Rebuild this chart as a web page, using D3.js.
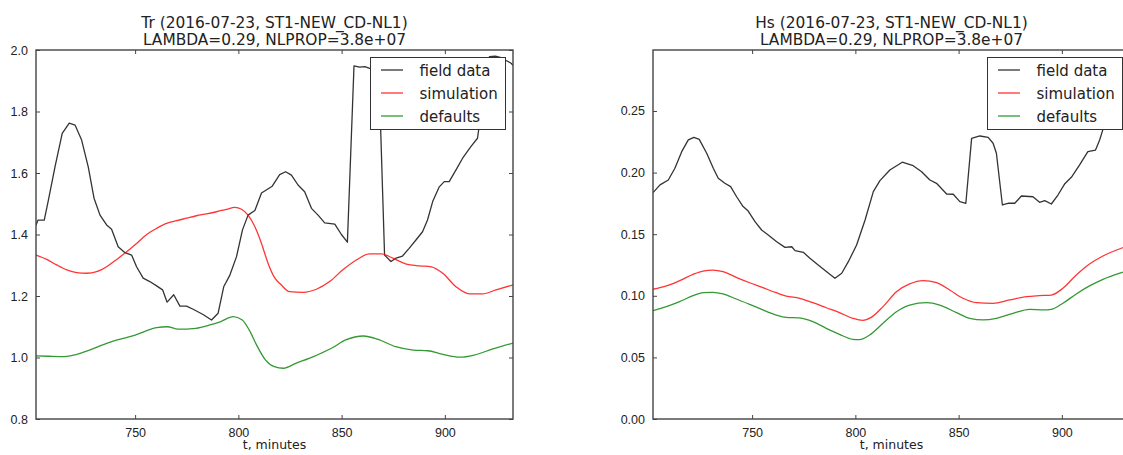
<!DOCTYPE html>
<html>
<head>
<meta charset="utf-8">
<script src="https://cdn.jsdelivr.net/npm/d3@7"></script>
<style>
  body { margin: 0; background: #fff; overflow: hidden; }
  svg { display: block; font-family: 'DejaVu Sans', sans-serif; }
</style>
</head>
<body>
<div id="chart-area"></div>
<script>

// time axis (minutes) shared by both panels
const tDomain = [702, 933];
const tTicks = [750, 800, 850, 900];

const trTicks = [0.8, 1.0, 1.2, 1.4, 1.6, 1.8, 2.0];
const hsTicks = [0.00, 0.05, 0.10, 0.15, 0.20, 0.25];

const seriesNames = ['field data', 'simulation', 'defaults'];
const seriesColors = ['#000000', '#ff0000', '#008000'];

// Tr, [t, value]
const trField = [
  [702, 1.43], [703, 1.447], [706, 1.447], [708, 1.512], [711.2, 1.62], [714.7, 1.729],
  [718.1, 1.762], [720.9, 1.756], [724.1, 1.707], [727.3, 1.62], [730.1, 1.518], [733, 1.463],
  [736.2, 1.431], [738.6, 1.417], [741.8, 1.36], [745.1, 1.341], [748.3, 1.333], [750.7, 1.295],
  [753.9, 1.258], [757.1, 1.247], [760.4, 1.233], [763.3, 1.22], [765.5, 1.18], [768.7, 1.204],
  [771.7, 1.167], [774.9, 1.167], [778.1, 1.157], [782.9, 1.14], [787, 1.122], [790.2, 1.144],
  [792.9, 1.23], [795.9, 1.268], [799.1, 1.328], [802, 1.415], [804.7, 1.463], [808, 1.478],
  [811.2, 1.535], [816.4, 1.557], [820, 1.595], [822.9, 1.604], [825.7, 1.593], [828.9, 1.561],
  [832.1, 1.539], [835.4, 1.485], [838.6, 1.463], [841.8, 1.438], [846.7, 1.434], [849.9, 1.40],
  [852.8, 1.375], [856, 1.948], [858.7, 1.944], [861.2, 1.946], [863.6, 1.94], [868, 1.94],
  [870.8, 1.333], [873.9, 1.312], [876.3, 1.323], [879.5, 1.33], [882.7, 1.355], [886, 1.382],
  [889.2, 1.409], [891.6, 1.447], [894.1, 1.507], [897.3, 1.555], [899.7, 1.572], [902.1, 1.572],
  [905.4, 1.61], [908.6, 1.648], [912.6, 1.686], [915.8, 1.713], [918.5, 1.84], [921.6, 1.978],
  [924.5, 1.98], [927.2, 1.975], [929.6, 1.966], [932.1, 1.957], [933, 1.95]
];
const trSim = [
  [702, 1.333], [707.2, 1.319], [712, 1.301], [716.9, 1.285], [721.7, 1.276], [726.6, 1.274],
  [731.4, 1.279], [736.2, 1.295], [741.1, 1.319], [745.9, 1.344], [750.7, 1.371], [755.6, 1.40],
  [760.4, 1.42], [765.2, 1.436], [770.1, 1.445], [774.9, 1.453], [779.7, 1.461], [784.6, 1.467],
  [789.4, 1.474], [794.3, 1.482], [798.3, 1.488], [801.5, 1.482], [804.7, 1.463], [808, 1.425],
  [811.2, 1.371], [814.4, 1.306], [817.7, 1.258], [820.5, 1.238], [824.8, 1.214], [831.3, 1.212],
  [837.8, 1.222], [844.2, 1.247], [850.6, 1.285], [857.1, 1.317], [863.6, 1.337], [869.2, 1.337],
  [874.8, 1.323], [881.3, 1.304], [887.7, 1.298], [893.4, 1.295], [899, 1.274], [905.4, 1.23],
  [911.9, 1.207], [918.3, 1.207], [924.8, 1.22], [933, 1.236]
];
const trDefault = [
  [702, 1.005], [708, 1.004], [715.5, 1.003], [725.8, 1.019], [736.2, 1.046], [750, 1.073],
  [760.4, 1.097], [765.6, 1.10], [770.8, 1.092], [779.4, 1.095], [786.3, 1.106], [791.5, 1.117],
  [797.5, 1.133], [801.9, 1.122], [805.3, 1.089], [808.8, 1.041], [813.1, 0.992], [817.4, 0.970],
  [821.8, 0.965], [827.8, 0.981], [836.4, 1.003], [845.1, 1.03], [852, 1.057], [860.6, 1.07],
  [867.6, 1.059], [876.2, 1.035], [884.8, 1.024], [891.7, 1.022], [898.6, 1.011], [907.3, 1.001],
  [914.2, 1.008], [922.9, 1.027], [933, 1.047]
];

// Hs, [t, value]
const hsField = [
  [702, 0.1837], [705.4, 0.19], [709.4, 0.194], [712.6, 0.2035], [715.9, 0.217], [719.1, 0.2265],
  [721.8, 0.2286], [724.4, 0.227], [728, 0.2157], [731.2, 0.2035], [733.6, 0.1954], [736.8, 0.1913],
  [739.6, 0.1886], [742.5, 0.1804], [745.4, 0.1729], [748.1, 0.1688], [751.4, 0.1602], [754.6, 0.1534],
  [757.8, 0.1494], [761.9, 0.1439], [765.9, 0.1393], [769.2, 0.1398], [770.8, 0.1366], [774.8, 0.1353],
  [778, 0.1304], [782, 0.125], [786.1, 0.1196], [790.1, 0.1142], [793.4, 0.1183], [796.6, 0.1277],
  [800.6, 0.1412], [804.7, 0.1615], [808.7, 0.1845], [811.9, 0.1935], [816.7, 0.2021], [822.7, 0.2084],
  [828, 0.2056], [832.1, 0.2007], [836.1, 0.194], [839.3, 0.1913], [844.2, 0.1826], [847.4, 0.1824],
  [850.6, 0.1764], [853.5, 0.1751], [856.3, 0.2278], [860.3, 0.2297], [864.3, 0.2286], [866.7, 0.2238],
  [868.3, 0.2157], [871.2, 0.1737], [873.9, 0.1751], [877.2, 0.1751], [880.4, 0.181], [886, 0.1804],
  [889.2, 0.1759], [891.7, 0.1772], [894.9, 0.1745], [898.1, 0.1818], [901.3, 0.1907], [904.6, 0.1962],
  [908.6, 0.2062], [912.6, 0.217], [916.3, 0.2183], [918.3, 0.2265], [919.9, 0.2351], [922, 0.245],
  [926, 0.255], [930, 0.262], [933, 0.266]
];
const hsSim = [
  [702, 0.1053], [708.5, 0.108], [714.9, 0.1123], [721.4, 0.1174], [726.2, 0.1201], [731, 0.1209],
  [735.9, 0.1196], [742.3, 0.115], [748.8, 0.1106], [755.2, 0.1066], [761.7, 0.1025], [766.5, 0.0998],
  [773, 0.098], [779.4, 0.0944], [785.9, 0.0903], [792.3, 0.0863], [798.8, 0.0817], [803.6, 0.0801],
  [807.7, 0.0825], [813.4, 0.0912], [819.9, 0.1033], [826.3, 0.1096], [832.8, 0.1123], [839.3, 0.1106],
  [845.7, 0.1047], [852.1, 0.098], [858.6, 0.0944], [866.7, 0.0939], [874.7, 0.0966], [882.8, 0.0993],
  [889.2, 0.1001], [894.9, 0.1006], [900.5, 0.1061], [907, 0.1169], [913.4, 0.1258], [919.9, 0.1323],
  [928.8, 0.1386], [933, 0.141]
];
const hsDefault = [
  [702, 0.0879], [708.5, 0.0912], [714.9, 0.0952], [721.4, 0.1001], [726.2, 0.1025], [731, 0.1028],
  [735.9, 0.1015], [742.3, 0.0974], [748.8, 0.0931], [755.2, 0.0885], [761.7, 0.0844], [766.5, 0.0825],
  [773, 0.082], [779.4, 0.079], [785.9, 0.0736], [792.3, 0.0687], [798.8, 0.0647], [802, 0.0645],
  [806.9, 0.0682], [813.4, 0.0777], [819.9, 0.0871], [826.3, 0.0925], [834.4, 0.0944], [840.9, 0.0925],
  [849, 0.0863], [855.4, 0.0817], [861.9, 0.0804], [868.3, 0.0817], [876.4, 0.0858], [884.4, 0.089],
  [890.9, 0.0885], [894.9, 0.089], [900.5, 0.0939], [907, 0.1015], [913.4, 0.108], [919.9, 0.1134],
  [928.8, 0.1188], [933, 0.121]
];

const width = 1123;
const height = 455;
const plotW = 477;
const plotH = 369;
const plotTop = 50;

const svg = d3.select('#chart-area').append('svg')
  .attr('width', width)
  .attr('height', height);

function drawPanel(opts) {
  const g = svg.append('g')
    .attr('transform', `translate(${opts.left}, ${plotTop})`);

  const x = d3.scaleLinear().domain(tDomain).range([0, plotW]);
  const y = d3.scaleLinear().domain(opts.yDomain).range([plotH, 0]);

  g.append('clipPath')
    .attr('id', `clip-${opts.id}`)
    .append('rect')
      .attr('width', plotW)
      .attr('height', plotH);

  const line = d3.line()
    .x(d => x(d[0]))
    .y(d => y(d[1]));

  const lines = g.append('g').attr('clip-path', `url(#clip-${opts.id})`);
  opts.series.forEach((s, i) => {
    lines.append('path')
      .datum(s)
      .attr('fill', 'none')
      .attr('stroke', seriesColors[i])
      .attr('stroke-opacity', 0.8)
      .attr('stroke-width', 1.3)
      .attr('stroke-linejoin', 'round')
      .attr('d', line.curve(i === 0 ? d3.curveLinear : d3.curveMonotoneX));
  });

  // ticks pointing inwards, on all four sides (classic matplotlib)
  const axisStyle = sel => {
    sel.select('.domain').remove();
    sel.selectAll('line').attr('stroke', '#444').attr('stroke-width', 1);
    sel.selectAll('text').attr('fill', '#222').attr('font-size', '12.5px');
  };

  g.append('g')
    .attr('transform', `translate(0, ${plotH})`)
    .call(d3.axisBottom(x).tickValues(tTicks).tickSizeInner(-4).tickSizeOuter(0).tickPadding(9))
    .call(axisStyle);
  g.append('g')
    .call(d3.axisTop(x).tickValues(tTicks).tickSizeInner(-4).tickSizeOuter(0).tickFormat(''))
    .call(axisStyle);
  g.append('g')
    .call(d3.axisLeft(y).tickValues(opts.ticks).tickSizeInner(-4).tickSizeOuter(0)
      .tickPadding(8).tickFormat(d3.format(opts.fmt)))
    .call(axisStyle);
  g.append('g')
    .attr('transform', `translate(${plotW}, 0)`)
    .call(d3.axisRight(y).tickValues(opts.ticks).tickSizeInner(-4).tickSizeOuter(0).tickFormat(''))
    .call(axisStyle);

  g.append('rect')
    .attr('width', plotW)
    .attr('height', plotH)
    .attr('fill', 'none')
    .attr('stroke', '#444')
    .attr('stroke-width', 1.4);

  g.append('text')
    .text(opts.title[0])
      .attr('x', plotW / 2)
      .attr('y', -22)
      .attr('font-size', '15.4px')
      .attr('fill', '#222')
      .attr('text-anchor', 'middle');
  g.append('text')
    .text(opts.title[1])
      .attr('x', plotW / 2)
      .attr('y', -5)
      .attr('font-size', '15.4px')
      .attr('fill', '#222')
      .attr('text-anchor', 'middle');

  g.append('text')
    .text('t, minutes')
      .attr('x', plotW / 2)
      .attr('y', plotH + 30)
      .attr('font-size', '12.5px')
      .attr('fill', '#222')
      .attr('text-anchor', 'middle');

  // legend, upper right
  const lg = g.append('g')
    .attr('transform', `translate(${plotW - 7.5 - 135}, 7.5)`);
  lg.append('rect')
    .attr('width', 135)
    .attr('height', 72)
    .attr('fill', '#fff')
    .attr('stroke', '#333')
    .attr('stroke-width', 1);
  seriesNames.forEach((name, i) => {
    const cy = 12.5 + i * 23;
    lg.append('line')
      .attr('x1', 10.5).attr('x2', 32.5)
      .attr('y1', cy).attr('y2', cy)
      .attr('stroke', seriesColors[i])
      .attr('stroke-opacity', 0.8)
      .attr('stroke-width', 1.3);
    lg.append('text')
      .text(name)
        .attr('x', 49)
        .attr('y', cy + 5.5)
        .attr('font-size', '15px')
        .attr('fill', '#222');
  });
}

drawPanel({
  id: 'tr',
  left: 36,
  yDomain: [0.8, 2.0],
  ticks: trTicks,
  fmt: '.1f',
  title: ['Tr (2016-07-23, ST1-NEW_CD-NL1)', 'LAMBDA=0.29, NLPROP=3.8e+07'],
  series: [trField, trSim, trDefault]
});

drawPanel({
  id: 'hs',
  left: 653,
  yDomain: [0, 0.2995],
  ticks: hsTicks,
  fmt: '.2f',
  title: ['Hs (2016-07-23, ST1-NEW_CD-NL1)', 'LAMBDA=0.29, NLPROP=3.8e+07'],
  series: [hsField, hsSim, hsDefault]
});

</script>
</body>
</html>
